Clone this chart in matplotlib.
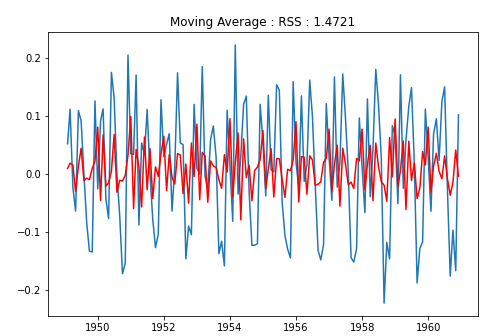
import pandas as pd
import matplotlib
matplotlib.use("Agg")
import matplotlib.pyplot as plt

# log-differenced monthly series, 1949-02 .. 1960-12
log_diff = [
    0.0522, 0.1121, -0.0230, -0.0640, 0.1095, 0.0919, 0.0000, -0.0846, -0.1335, -0.1347, 0.1263,
    -0.0258, 0.0914, 0.1125, -0.0435, -0.0770, 0.1756, 0.1319, 0.0000, -0.0732, -0.1723, -0.1542, 0.2054,
    0.0351, 0.0339, 0.1712, -0.0880, 0.0537, 0.0343, 0.1115, 0.0000, -0.0784, -0.1273, -0.1040, 0.1284,
    0.0297, 0.0513, 0.0697, -0.0642, 0.0110, 0.1750, 0.0536, 0.0509, -0.1466, -0.0901, -0.1048, 0.1204,
    0.0103, 0.0000, 0.1857, -0.0042, -0.0259, 0.0593, 0.0829, 0.0299, -0.1377, -0.1162, -0.1589, 0.1103,
    0.0148, -0.0817, 0.2231, -0.0346, 0.0304, 0.1206, 0.1345, -0.0303, -0.1233, -0.1231, -0.1205, 0.1205,
    0.0552, -0.0379, 0.1362, 0.0075, 0.0037, 0.1542, 0.1446, -0.0478, -0.1063, -0.1299, -0.1451, 0.1596,
    0.0214, -0.0250, 0.1349, -0.0127, 0.0158, 0.1622, 0.0992, -0.0196, -0.1318, -0.1485, -0.1215, 0.1215,
    0.0290, -0.0455, 0.1678, -0.0227, 0.0199, 0.1729, 0.0970, 0.0043, -0.1449, -0.1521, -0.1290, 0.0968,
    0.0118, -0.0669, 0.1296, -0.0394, 0.0422, 0.1809, 0.1211, 0.0281, -0.2231, -0.1181, -0.1468, 0.0835,
    0.0660, -0.0513, 0.1715, -0.0249, 0.0588, 0.1167, 0.1493, 0.0199, -0.1884, -0.1289, -0.1172, 0.1122,
    0.0292, -0.0644, 0.0692, 0.0955, 0.0236, 0.1253, 0.1507, -0.0261, -0.1764, -0.0971, -0.1672, 0.1023,
]

# fitted values of the moving average model
ma_fit = [
    0.0097, 0.0187, 0.0156, -0.0304, 0.0135, 0.0444, -0.0113, -0.0072, -0.0098, 0.0098, 0.0221,
    0.0811, -0.0459, 0.0679, -0.0209, -0.0154, 0.0052, 0.0682, -0.0315, -0.0108, -0.0123, -0.0026, 0.0325,
    0.0995, -0.0600, 0.0424, 0.0115, -0.0570, 0.0640, -0.0272, 0.0440, -0.0425, 0.0124, -0.0042, 0.0350,
    0.0652, -0.0287, 0.0334, -0.0059, -0.0171, 0.0354, 0.0327, -0.0338, 0.0172, -0.0504, 0.0535, -0.0045,
    0.0862, -0.0444, 0.0374, 0.0311, -0.0489, 0.0226, 0.0142, 0.0112, -0.0098, -0.0246, 0.0334, 0.0031,
    0.0955, -0.0395, 0.0201, 0.0709, -0.0793, 0.0607, -0.0064, 0.0154, -0.0463, 0.0060, 0.0119, 0.0255,
    0.0751, -0.0249, 0.0077, 0.0437, -0.0398, 0.0267, 0.0262, -0.0085, -0.0405, 0.0081, 0.0060, 0.0241,
    0.0904, -0.0483, 0.0301, 0.0289, -0.0350, 0.0314, 0.0244, -0.0194, -0.0178, -0.0137, 0.0205, 0.0271,
    0.0776, -0.0308, 0.0167, 0.0498, -0.0555, 0.0447, 0.0175, -0.0186, -0.0140, -0.0250, 0.0270, 0.0226,
    0.0776, -0.0273, 0.0174, 0.0497, -0.0459, 0.0535, 0.0127, -0.0131, -0.0193, -0.0472, 0.0630, -0.0048,
    0.0951, -0.0216, 0.0061, 0.0569, -0.0613, 0.0566, -0.0113, 0.0195, -0.0425, -0.0243, 0.0389, 0.0155,
    0.0812, -0.0313, 0.0137, 0.0357, 0.0046, -0.0084, 0.0312, -0.0079, -0.0367, -0.0145, 0.0414, -0.0038,
]

dates = pd.date_range("1949-02-01", periods=len(log_diff), freq="MS")
ts_log_diff = pd.Series(log_diff, index=dates)
fitted = pd.Series(ma_fit, index=dates)

W, H = 482, 336
fig = plt.figure(figsize=(W / 72, H / 72), dpi=72)
ax = fig.add_axes([48 / W, 1 - 316 / H, (478 - 48) / W, (316 - 32) / H])

ax.plot(ts_log_diff.index, ts_log_diff.values)
ax.plot(fitted.index, fitted.values, color="red")
ax.set_title("Moving Average : RSS : 1.4721")

fig.savefig("out.png", dpi=72)
